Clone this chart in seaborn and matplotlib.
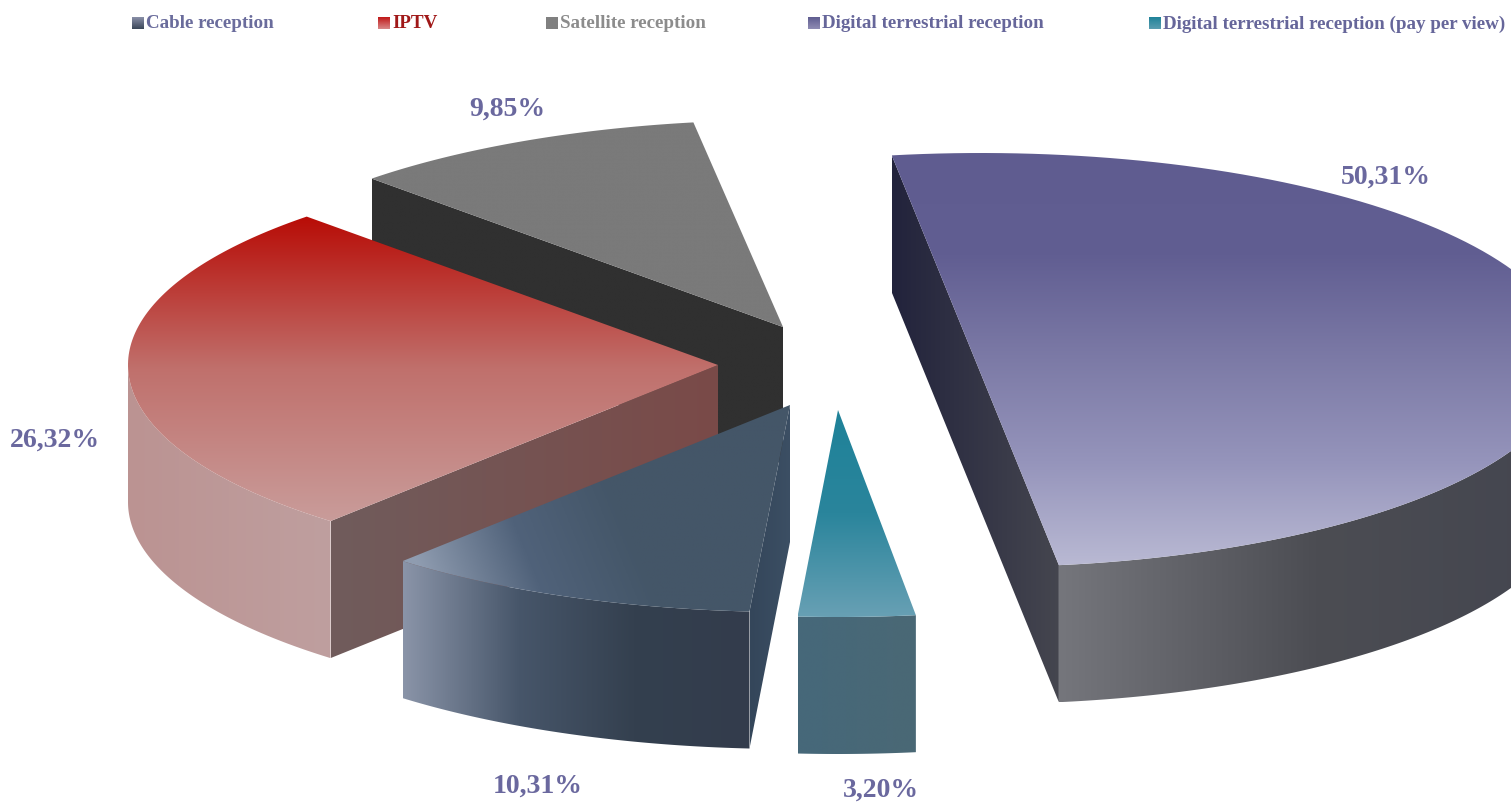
import numpy as np
import matplotlib
matplotlib.use('Agg')
import matplotlib.pyplot as plt
from matplotlib.patches import Polygon
import seaborn as sns

# values, clockwise from the big slice
categories = ['Digital terrestrial reception', 'Digital terrestrial reception (pay per view)',
              'Cable reception', 'IPTV', 'Satellite reception']
shares = [50.31, 3.20, 10.31, 26.32, 9.85]

legend_order = ['Cable reception', 'IPTV', 'Satellite reception',
                'Digital terrestrial reception', 'Digital terrestrial reception (pay per view)']
legend_x = [146, 392, 560, 822, 1163]
legend_colors = ['#6a6c9c', '#a01818', '#8c8c8c', '#66669a', '#66669a']
swatch_colors = [['#8a90a8', '#3a4658'], ['#c01818', '#d88888'], ['#808080', '#808080'],
                 ['#5f5c90', '#8f8db4'], ['#1f8299', '#5a9db0']]

# pie geometry in picture pixels
W, H = 1511, 802
RX, RY, DEPTH = 590, 207, 137
START = 98.7
centers = [(981, 360), (838, 410), (790, 405), (718, 365), (783, 327)]
label_pos = [(1386, 177), (881, 790), (538, 786), (55, 440), (507, 109)]

# gradient colours per slice: top face, curved wall, cut face
top_colors = [['#5f5c90', '#615e92', '#7c7aa6', '#9594bb', '#b9b9d3'],
              ['#1f8299', '#2a859c', '#68a0b4'],
              ['#8f9cb0', '#50627a', '#445668', '#445668'],
              ['#b80c06', '#c0706c', '#c99c9a'],
              ['#7a7a7a', '#7a7a7a']]
top_dir = ['v', 'v', 'd', 'v', 'v']
wall_colors = [['#75767c', '#4c4d53', '#43454f'],
               ['#46687a', '#4a6875'],
               ['#8a94a8', '#47566a', '#34404f', '#333c4c'],
               ['#bb9392', '#bf9f9f'],
               None]
face_colors = [['#22233c', '#45464f'],
               None,
               ['#34465a', '#3c4f64'],
               ['#705c5c', '#7a4a48'],
               ['#303030', '#303030']]

sns.set_theme(style='white')
plt.rcParams['font.family'] = ['Liberation Serif', 'DejaVu Serif']

fig = plt.figure(figsize=(W / 100, H / 100), dpi=100)
ax = fig.add_axes([0, 0, 1, 1])
ax.set_xlim(0, W)
ax.set_ylim(H, 0)
ax.axis('off')

z = [1]


def paint(poly, colors, direction):
    # fill a polygon with a gradient, clipped to its outline
    cmap = sns.blend_palette(colors, n_colors=256, as_cmap=True)
    x0, y0 = poly.min(axis=0)
    x1, y1 = poly.max(axis=0)
    u, v = np.meshgrid(np.linspace(0, 1, 256), np.linspace(0, 1, 256))
    img = {'v': v, 'h': u, 'd': np.clip(u * 1.15 + (1 - v) * 0.25 - 0.1, 0, 1)}[direction]
    im = ax.imshow(img, cmap=cmap, extent=(x0, x1, y1, y0), aspect='auto', zorder=z[0],
                   vmin=0, vmax=1, interpolation='bilinear')
    patch = Polygon(poly, closed=True, transform=ax.transData, fc='none', ec='none')
    ax.add_patch(patch)
    im.set_clip_path(patch)
    z[0] += 1


def rim(c, a0, a1, n=120):
    t = np.radians(np.linspace(a0, a1, n))
    return np.column_stack([c[0] + RX * np.cos(t), c[1] - RY * np.sin(t)])


down = np.array([0, DEPTH])

# slice angles come from the shares, going clockwise
edges = START - np.cumsum([0] + shares) * 3.6

# back slices first, big slice last
for i in [4, 3, 2, 1, 0]:
    a0, a1 = edges[i], edges[i + 1]
    c = np.array(centers[i], dtype=float)
    outline = rim(c, a0, a1)

    # cut face on the visible side
    if i == 0:
        p0, p1 = outline[0], outline[-1]
        paint(np.array([p0, p1, p1 + down, p0 + down]), face_colors[i], 'h')
    elif i in (2, 3, 4):
        p0 = outline[0]
        paint(np.array([p0, c, c + down, p0 + down]), face_colors[i], 'h')

    # curved outer wall, only the part that faces the viewer
    if wall_colors[i] is not None:
        front = rim(c, min(a0, 0), max(a1, -180))
        paint(np.vstack([front, (front + down)[::-1]]), wall_colors[i], 'h')

    # top face
    poly = outline if i == 0 else np.vstack([c, outline])
    paint(poly, top_colors[i], top_dir[i])

    txt = f'{shares[i]:.2f}'.replace('.', ',') + '%'
    ax.text(label_pos[i][0], label_pos[i][1], txt, ha='center', va='center', fontsize=20,
            fontweight='bold', color='#6a689e', zorder=50)

# legend row
for name, x, col, sw in zip(legend_order, legend_x, legend_colors, swatch_colors):
    paint(np.array([[x - 14, 17], [x - 2, 17], [x - 2, 29], [x - 14, 29]], dtype=float), sw, 'v')
    ax.text(x, 24, name, ha='left', va='center', fontsize=13.7, fontweight='bold', color=col, zorder=50)

ax.set_xlim(0, W)
ax.set_ylim(H, 0)
fig.savefig('out.png', dpi=100, facecolor='white')
